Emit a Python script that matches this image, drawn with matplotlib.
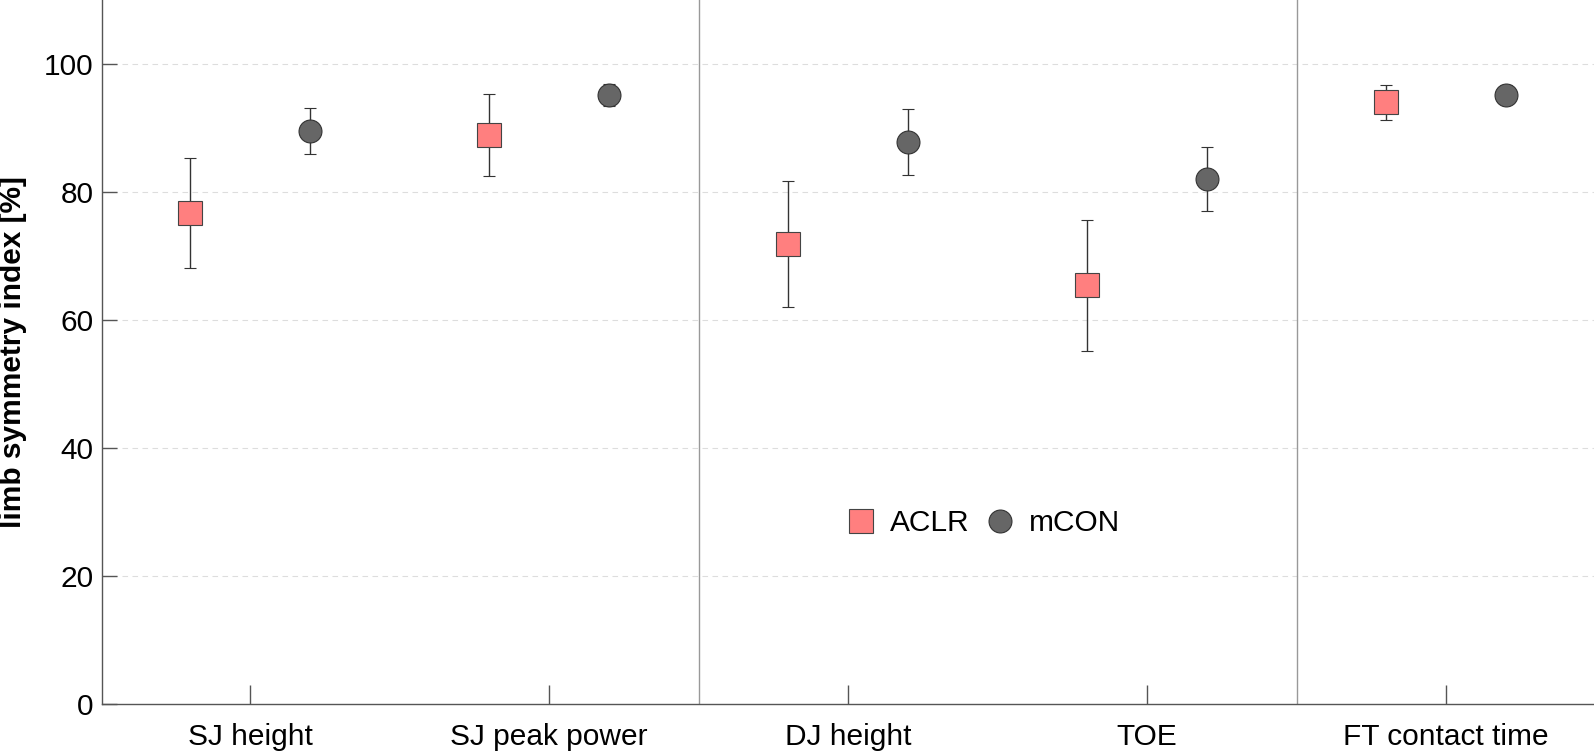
import matplotlib
matplotlib.use("Agg")
import matplotlib.pyplot as plt
from matplotlib.lines import Line2D
import numpy as np

categories = ["SJ height", "SJ peak power", "DJ height", "TOE", "FT contact time"]
aclr_mean = [76.7, 88.9, 71.9, 65.4, 94.0]
aclr_sd = [8.6, 6.4, 9.8, 10.2, 2.7]
mcon_mean = [89.6, 95.2, 87.8, 82.1, 95.2]
mcon_sd = [3.6, 1.7, 5.2, 5.0, 1.5]
yticks = [0, 20, 40, 60, 80, 100]

plt.rcParams['font.family'] = ['Liberation Sans', 'DejaVu Sans']

fig = plt.figure(figsize=(15.94, 7.52), dpi=100)
ax = fig.add_axes([0.064, 0.0638, 0.936, 0.9362])

x = np.arange(len(categories))
off = 0.2
aclr_style = dict(marker='s', ms=17.5, mfc='#FF7F7F', mec='#444444', mew=0.8)
mcon_style = dict(marker='o', ms=16.5, mfc='#666666', mec='#333333', mew=0.8)
ax.errorbar(x - off, aclr_mean, yerr=aclr_sd, ls='none', ecolor='#333333',
            elinewidth=1.0, capsize=4.5, capthick=1.0, zorder=3, **aclr_style)
ax.errorbar(x + off, mcon_mean, yerr=mcon_sd, ls='none', ecolor='#333333',
            elinewidth=1.0, capsize=4.5, capthick=1.0, zorder=3, **mcon_style)

for sx in [1.5, 3.5]:
    ax.axvline(sx, color='#999999', lw=1.0, zorder=1)

for yv in yticks[1:]:
    ax.axhline(yv, color='#dddddd', lw=0.8, ls=(0, (5, 4)), zorder=0)

ax.set_xlim(-0.495, 4.495)
ax.set_ylim(0, 110)
ax.set_xticks(x)
ax.set_xticklabels(categories, fontsize=21.5)
ax.set_yticks(yticks)
ax.set_yticklabels([str(v) for v in yticks], fontsize=21.5)
ax.tick_params(axis='y', direction='in', length=11, width=1.0, color='#555555', pad=6)
ax.tick_params(axis='x', direction='in', length=14, width=1.0, color='#555555', pad=14)
ax.set_ylabel('limb symmetry index [%]', fontsize=21.5, fontweight='bold', labelpad=12)

for s in ['top', 'right']:
    ax.spines[s].set_visible(False)
for s in ['left', 'bottom']:
    ax.spines[s].set_color('#555555')
    ax.spines[s].set_linewidth(1.0)

handles = [Line2D([], [], ls='none', **aclr_style),
           Line2D([], [], ls='none', **mcon_style)]
ax.legend(handles, ['ACLR', 'mCON'], loc='center', bbox_to_anchor=(0.588, 0.257),
          ncol=2, frameon=False, fontsize=21.5, handletextpad=0.2,
          columnspacing=0.3, numpoints=1, handlelength=1.5)

fig.savefig('out.png', dpi=100)
